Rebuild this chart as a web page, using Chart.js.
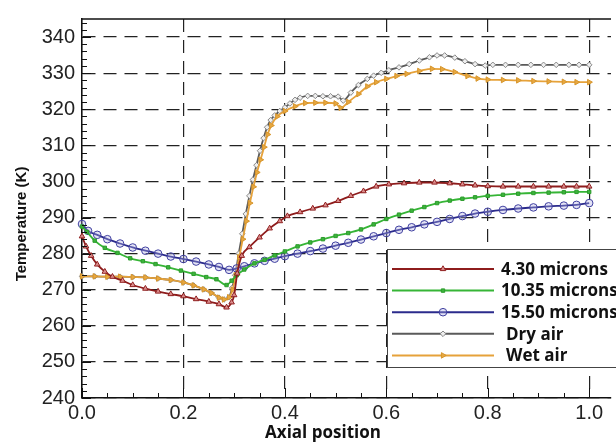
<!DOCTYPE html>
<html><head><meta charset="utf-8">
<script src="https://cdn.jsdelivr.net/npm/chart.js@4.4.0/dist/chart.umd.min.js"></script>
<style>html,body{margin:0;padding:0;background:#fff;overflow:hidden}#wrap{width:616px;height:443px}</style>
</head><body><div id="wrap"><canvas id="c" width="616" height="443"></canvas></div>
<script>
// ---- data ----
const xTicks = [0, 0.2, 0.4, 0.6, 0.8, 1.0];
const yTicks = [240, 250, 260, 270, 280, 290, 300, 310, 320, 330, 340];
const seriesNames = ['4.30 microns', '10.35 microns', '15.50 microns', 'Dry air', 'Wet air'];

const x430 = [0,0.008,0.018,0.03,0.045,0.06,0.08,0.1,0.125,0.15,0.175,0.2,0.225,0.25,0.27,0.285,0.295,0.3,0.306,0.315,0.33,0.35,0.37,0.39,0.405,0.43,0.455,0.48,0.505,0.53,0.555,0.58,0.605,0.635,0.665,0.695,0.725,0.75,0.775,0.8,0.83,0.86,0.89,0.92,0.95,0.975,1.0];
const t430 = [284.8,282.0,279.4,277.0,275.0,273.6,272.5,271.3,270.3,269.5,268.8,268.2,267.4,266.7,266.0,265.1,266.5,268.5,274.5,279.4,281.8,284.5,287.0,289.0,290.4,291.5,292.5,293.4,294.6,296.0,297.3,298.6,299.2,299.5,299.7,299.7,299.5,299.2,298.9,298.7,298.6,298.6,298.6,298.6,298.6,298.6,298.6];

const x1035 = [0,0.01,0.025,0.045,0.07,0.095,0.12,0.145,0.17,0.195,0.22,0.245,0.265,0.285,0.295,0.305,0.32,0.34,0.36,0.38,0.4,0.425,0.45,0.475,0.5,0.525,0.55,0.575,0.6,0.625,0.65,0.675,0.7,0.725,0.75,0.775,0.8,0.83,0.86,0.89,0.92,0.95,0.975,1.0];
const t1035 = [287.5,286.0,283.6,281.6,280.2,278.7,277.9,277.1,276.2,275.3,274.4,273.5,272.9,271.3,272.5,274.0,275.6,277.3,278.3,279.5,280.6,282.0,283.1,284.0,284.9,285.7,286.7,288.1,289.6,290.8,291.9,292.9,294.0,294.7,295.2,295.6,296.0,296.3,296.6,296.8,296.9,297.0,297.1,297.1];

const x1550 = [0,0.012,0.03,0.05,0.075,0.1,0.125,0.15,0.175,0.2,0.225,0.25,0.27,0.29,0.305,0.32,0.34,0.36,0.38,0.4,0.425,0.45,0.475,0.5,0.525,0.55,0.575,0.6,0.625,0.65,0.675,0.7,0.725,0.75,0.775,0.8,0.83,0.86,0.89,0.92,0.95,0.975,1.0];
const t1550 = [288.2,286.3,285.2,284.0,282.8,281.7,280.8,280.0,279.2,278.5,277.8,277.0,276.3,275.5,275.9,276.5,277.3,278.0,278.6,279.3,280.0,280.7,281.4,282.2,283.0,283.9,284.8,285.7,286.6,287.3,288.1,288.8,289.6,290.4,291.1,291.6,292.1,292.5,292.8,293.1,293.3,293.5,294.0];

const xDry = [0,0.025,0.05,0.075,0.1,0.125,0.15,0.175,0.2,0.22,0.24,0.255,0.27,0.28,0.29,0.296,0.302,0.309,0.316,0.323,0.33,0.337,0.344,0.351,0.358,0.365,0.372,0.38,0.39,0.4,0.41,0.42,0.43,0.445,0.46,0.475,0.49,0.505,0.515,0.53,0.545,0.5625,0.575,0.59,0.605,0.625,0.645,0.665,0.685,0.7,0.715,0.735,0.755,0.775,0.795,0.81,0.835,0.86,0.885,0.91,0.935,0.96,0.98,1.0];
const tDry = [273.7,273.7,273.6,273.6,273.5,273.4,273.1,272.7,272.0,271.2,270.1,269.1,267.8,267.3,267.9,270.5,274.0,280.0,285.5,291.0,296.0,300.5,304.5,308.5,312.0,315.0,317.0,318.3,319.5,320.5,321.6,322.6,323.2,323.7,323.7,323.6,323.6,323.5,322.4,324.6,326.7,328.4,329.3,330.1,330.8,331.6,332.5,333.5,334.4,334.9,334.9,334.3,333.3,332.5,332.1,332.3,332.3,332.3,332.3,332.3,332.3,332.3,332.3,332.3];

const xWet = [0,0.025,0.05,0.075,0.1,0.125,0.15,0.175,0.2,0.22,0.24,0.255,0.27,0.28,0.29,0.297,0.303,0.31,0.317,0.324,0.331,0.338,0.345,0.352,0.359,0.366,0.373,0.385,0.4,0.42,0.44,0.46,0.48,0.5,0.51,0.525,0.545,0.5625,0.58,0.6,0.62,0.64,0.665,0.69,0.71,0.735,0.76,0.78,0.8,0.83,0.86,0.89,0.92,0.95,0.975,1.0];
const tWet = [273.7,273.7,273.6,273.6,273.5,273.4,273.1,272.7,272.0,271.2,270.1,269.1,267.8,267.3,267.9,270.0,274.0,279.0,284.0,289.0,294.0,298.5,302.5,306.0,309.5,313.0,315.5,318.0,319.5,320.8,321.7,321.8,321.8,321.6,320.4,322.0,324.2,326.3,327.5,328.4,329.2,329.8,330.6,331.2,331.1,330.3,329.2,328.5,328.2,328.1,328.0,327.8,327.7,327.6,327.5,327.5];

const pts = (xs, ts) => xs.map((x, i) => ({x: x, y: ts[i]}));

// ---- plugins ----
const framePlugin = {
  id: 'frame',
  afterDatasetsDraw(chart) {
    const {ctx, chartArea: a, scales: {x, y}} = chart;
    ctx.save();
    ctx.strokeStyle = '#111';
    ctx.lineWidth = 1.5;
    ctx.beginPath();
    ctx.moveTo(a.left, a.top); ctx.lineTo(a.right, a.top);
    ctx.stroke();
    ctx.lineWidth = 1;
    ctx.beginPath();
    for (let v = 240; v <= 345; v += 2) {
      const py = Math.round(y.getPixelForValue(v)) + 0.5;
      const len = (v % 10 === 0) ? 9 : 5;
      ctx.moveTo(a.left, py); ctx.lineTo(a.left + len, py);
    }
    for (let k = 0; k <= 20; k++) {
      const px = Math.round(x.getPixelForValue(k * 0.05)) + 0.5;
      const len = (k % 4 === 0) ? 10 : 5;
      ctx.moveTo(px, a.bottom); ctx.lineTo(px, a.bottom - len);
    }
    ctx.stroke();
    ctx.restore();
  }
};

const legendPlugin = {
  id: 'boxLegend',
  afterDraw(chart) {
    const ctx = chart.ctx;
    const bx = 387.5, by = 249.5, bw = 240, bh = 118;
    ctx.save();
    ctx.fillStyle = '#fff';
    ctx.fillRect(bx, by, bw, bh);
    ctx.strokeStyle = '#444';
    ctx.lineWidth = 1;
    ctx.strokeRect(bx, by, bw, bh);
    chart.data.datasets.forEach((ds, i) => {
      const ry = 269 + i * 21.6;
      ctx.strokeStyle = ds.borderColor;
      ctx.lineWidth = 2;
      ctx.beginPath(); ctx.moveTo(392, ry); ctx.lineTo(494, ry); ctx.stroke();
      ctx.fillStyle = ds.pointBackgroundColor;
      ctx.strokeStyle = ds.pointBorderColor;
      ctx.lineWidth = 1;
      Chart.helpers.drawPoint(ctx, {pointStyle: ds.pointStyle, rotation: ds.pointRotation || 0, radius: ds.pointRadius, borderWidth: 1}, 443, ry);
      ctx.fillStyle = '#111';
      ctx.font = 'bold 17px "Open Sans"';
      ctx.textBaseline = 'middle';
      ctx.textAlign = 'left';
      ctx.fillText(ds.label, i < 3 ? 501 : 506, ry + 1);
    });
    ctx.restore();
  }
};

const titlePlugin = {
  id: 'axisTitles',
  afterDraw(chart) {
    const ctx = chart.ctx;
    ctx.save();
    ctx.fillStyle = '#111';
    ctx.textAlign = 'center';
    ctx.textBaseline = 'middle';
    ctx.font = 'bold 17px "Open Sans"';
    ctx.fillText('Axial position', 323, 433);
    ctx.translate(22, 224);
    ctx.rotate(-Math.PI / 2);
    ctx.font = 'bold 15px "Liberation Sans"';
    ctx.fillText('Temperature (K)', 0, 0);
    ctx.restore();
  }
};

const mk = (label, xs, ts, color, style, rot, r, bg, bd, order) => ({
  label: label, data: pts(xs, ts), borderColor: color, borderWidth: 1.8,
  pointStyle: style, pointRotation: rot, pointRadius: r, pointBackgroundColor: bg,
  pointBorderColor: bd, pointBorderWidth: 1, cubicInterpolationMode: 'monotone',
  fill: false, clip: false, order: order
});

const datasets = [
  mk(seriesNames[0], x430, t430, '#8e1c1c', 'triangle', 0, 3.2, 'rgba(225,150,150,0.9)', '#8e1c1c', 0),
  mk(seriesNames[1], x1035, t1035, '#36b536', 'rect', 0, 2.4, '#3cb43c', '#2c9c2c', 0),
  mk(seriesNames[2], x1550, t1550, '#2b2b8c', 'circle', 0, 3.8, 'rgba(175,175,225,0.35)', '#4040a0', 0),
  mk(seriesNames[3], xDry, tDry, '#5a5a5a', 'rectRot', 0, 2.8, '#eeeeee', '#888888', 1),
  mk(seriesNames[4], xWet, tWet, '#e6a23a', 'triangle', 90, 3.2, '#e8a840', '#d6952c', 0)
];

const tickFont = {family: '"Liberation Sans"', size: 20};

new Chart(document.getElementById('c'), {
  type: 'line',
  data: {datasets: datasets},
  options: {
    responsive: false, animation: false, devicePixelRatio: 1,
    layout: {padding: {top: 12, right: 0, left: 0, bottom: 0}},
    plugins: {legend: {display: false}, tooltip: {enabled: false}},
    scales: {
      x: {
        type: 'linear', min: 0, max: 1.043,
        afterBuildTicks: s => { s.ticks = xTicks.map(v => ({value: v})); },
        afterFit: s => { s.height = 45; },
        ticks: {callback: v => Number(v).toFixed(1), font: tickFont, color: '#222', padding: 3, maxRotation: 0, autoSkip: false},
        grid: {color: '#222', lineWidth: 1.2, drawTicks: false},
        border: {display: true, color: '#111', width: 1.5, dash: [13, 8]}
      },
      y: {
        type: 'linear', min: 240, max: 345,
        afterBuildTicks: s => { s.ticks = yTicks.map(v => ({value: v})); },
        afterFit: s => { s.width = 82; },
        ticks: {callback: v => String(v), font: tickFont, color: '#222', padding: 7},
        grid: {color: '#222', lineWidth: 1.2, drawTicks: false},
        border: {display: true, color: '#111', width: 1.5, dash: [13, 8]}
      }
    }
  },
  plugins: [framePlugin, legendPlugin, titlePlugin]
});
</script>
</body></html>
